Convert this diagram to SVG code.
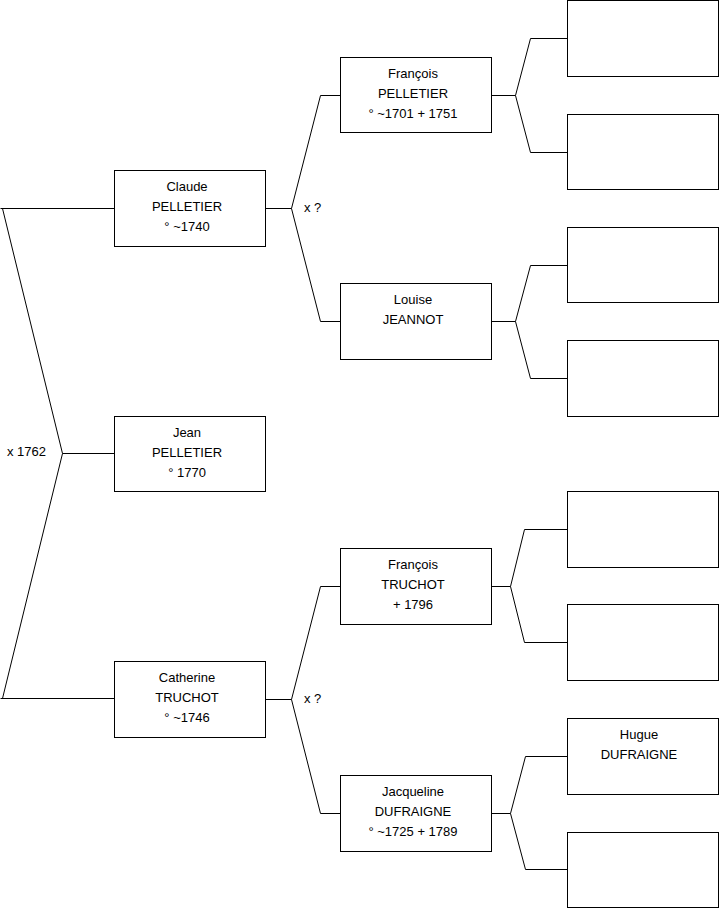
<svg xmlns="http://www.w3.org/2000/svg" width="719" height="908" viewBox="0 0 719 908">
<style>
rect.b{fill:#fff;stroke:#000;stroke-width:1}
#connectors path{fill:none;stroke:#000;stroke-width:1}
text{font-family:"Liberation Sans",Arial,sans-serif;font-size:13px;fill:#000;text-anchor:middle}
text.l{text-anchor:start}
</style>
<rect width="719" height="908" fill="#fff"/>
<g id="connectors">
<path d="M0.5,208.5 H114.5 M2.5,208.5 L62.5,453.5 L2.5,698.5 M0.5,698.5 H114.5 M62.5,453.5 H114.5"/>
<path d="M265.5,208.5 H291.5 M320.5,95.5 L291.5,208.5 L320.5,321.5 M320.5,95.5 H340.5 M320.5,321.5 H340.5"/>
<path d="M265.5,699.5 H291.5 M320.5,586.5 L291.5,699.5 L320.5,813.5 M320.5,586.5 H340.5 M320.5,813.5 H340.5"/>
<path d="M491.5,95.5 H515.5 M530.5,38.5 L515.5,95.5 L530.5,152.5 M530.5,38.5 H567.5 M530.5,152.5 H567.5"/>
<path d="M491.5,321.5 H515.5 M530.5,265.5 L515.5,321.5 L530.5,378.5 M530.5,265.5 H567.5 M530.5,378.5 H567.5"/>
<path d="M491.5,586.5 H510.5 M524.5,529.5 L510.5,586.5 L524.5,642.5 M524.5,529.5 H567.5 M524.5,642.5 H567.5"/>
<path d="M491.5,813.5 H510.5 M525.5,756.5 L510.5,813.5 L525.5,869.5 M525.5,756.5 H567.5 M525.5,869.5 H567.5"/>
</g>
<g id="labels">
<text class="l" x="7" y="456">x 1762</text>
<text class="l" x="304" y="212">x ?</text>
<text class="l" x="304" y="703">x ?</text>
</g>
<g id="claude"><rect class="b" x="114.5" y="170.5" width="151" height="76"/>
<text x="187" y="191">Claude</text><text x="187" y="211">PELLETIER</text><text x="187" y="231">° ~1740</text></g>
<g id="jean"><rect class="b" x="114.5" y="416.5" width="151" height="75"/>
<text x="187" y="437">Jean</text><text x="187" y="457">PELLETIER</text><text x="187" y="477">° 1770</text></g>
<g id="catherine"><rect class="b" x="114.5" y="661.5" width="151" height="76"/>
<text x="187" y="682">Catherine</text><text x="187" y="702">TRUCHOT</text><text x="187" y="722">° ~1746</text></g>
<g id="francois-p"><rect class="b" x="340.5" y="57.5" width="151" height="75"/>
<text x="413" y="78">François</text><text x="413" y="98">PELLETIER</text><text x="413" y="118">° ~1701 + 1751</text></g>
<g id="louise"><rect class="b" x="340.5" y="283.5" width="151" height="76"/>
<text x="413" y="304">Louise</text><text x="413" y="324">JEANNOT</text></g>
<g id="francois-t"><rect class="b" x="340.5" y="548.5" width="151" height="76"/>
<text x="413" y="569">François</text><text x="413" y="589">TRUCHOT</text><text x="413" y="609">+ 1796</text></g>
<g id="jacqueline"><rect class="b" x="340.5" y="775.5" width="151" height="76"/>
<text x="413" y="796">Jacqueline</text><text x="413" y="816">DUFRAIGNE</text><text x="413" y="836">° ~1725 + 1789</text></g>
<g id="p1"><rect class="b" x="567.5" y="0.5" width="151" height="76"/></g>
<g id="p2"><rect class="b" x="567.5" y="114.5" width="151" height="75"/></g>
<g id="p3"><rect class="b" x="567.5" y="227.5" width="151" height="75"/></g>
<g id="p4"><rect class="b" x="567.5" y="340.5" width="151" height="76"/></g>
<g id="p5"><rect class="b" x="567.5" y="491.5" width="151" height="76"/></g>
<g id="p6"><rect class="b" x="567.5" y="604.5" width="151" height="76"/></g>
<g id="hugue"><rect class="b" x="567.5" y="718.5" width="151" height="76"/>
<text x="639" y="739">Hugue</text><text x="639" y="759">DUFRAIGNE</text></g>
<g id="p8"><rect class="b" x="567.5" y="832.5" width="151" height="75"/></g>
</svg>
